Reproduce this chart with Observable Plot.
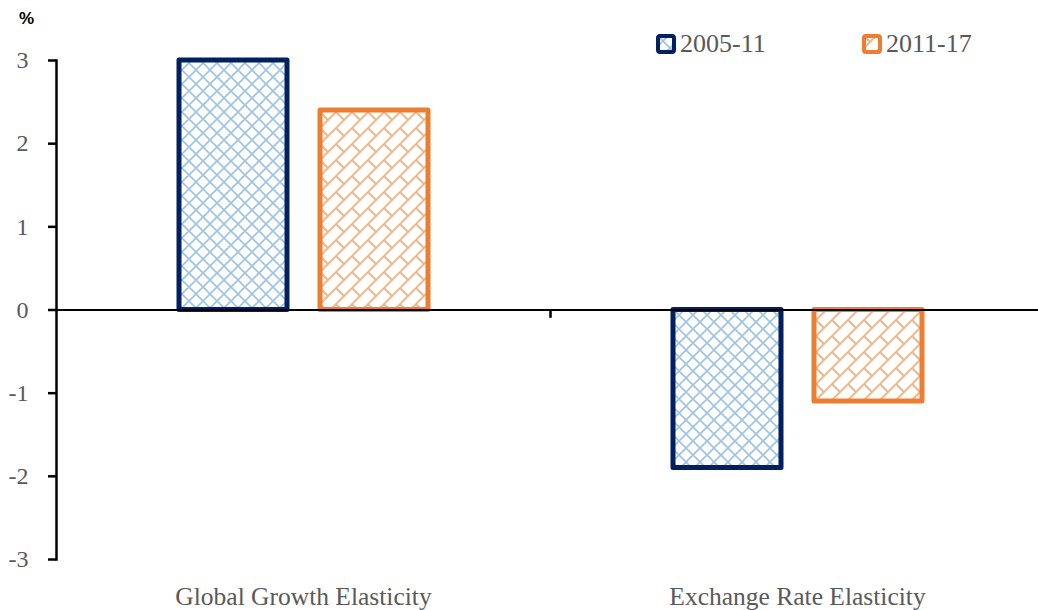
<!DOCTYPE html>
<html>
<head>
<meta charset="utf-8">
<script src="https://cdn.jsdelivr.net/npm/d3@7"></script>
<script src="https://cdn.jsdelivr.net/npm/@observablehq/plot@0.6"></script>
<style>
  body { margin: 0; background: #fff; }
  #wrap { position: relative; width: 1038px; height: 610px; overflow: hidden; }
  #chart svg text { fill: #595959; }
  .pct { position: absolute; left: 19px; top: 9px; font: bold 17px "Liberation Sans", Arial, sans-serif; color: #000; }
  .leg { position: absolute; top: 29px; display: flex; align-items: center; font: 26px "Liberation Serif", serif; color: #595959; }
  .leg svg { margin-right: 4px; }
</style>
</head>
<body>
<div id="wrap">
  <div id="chart"></div>
  <div class="pct">%</div>
  <div id="legend"></div>
</div>
<script>
const categories = ["Global Growth Elasticity", "Exchange Rate Elasticity"];
const series = ["2005-11", "2011-17"];
const values2005 = [3.0, -1.9];
const values2011 = [2.4, -1.1];
const yTicks = [-3, -2, -1, 0, 1, 2, 3];

const strokeColors = {"2005-11": "#002060", "2011-17": "#ED7D31"};
const fills = {"2005-11": "url(#pBlue)", "2011-17": "url(#pOrange)"};

const data = categories.flatMap((c, i) => [
  {category: c, series: series[0], value: values2005[i]},
  {category: c, series: series[1], value: values2011[i]}
]);

const chart = Plot.plot({
  width: 1038,
  height: 610,
  marginTop: 60,
  marginBottom: 51,
  marginLeft: 56,
  marginRight: -6,
  style: {fontFamily: "'Liberation Serif', serif", fontSize: "24px", color: "#000", background: "transparent"},
  x: {domain: categories, padding: 0},
  y: {domain: [-3, 3]},
  marks: [
    Plot.barY(data.filter(d => d.series === series[0]), {
      x: "category", y: "value", fill: fills[series[0]], stroke: strokeColors[series[0]],
      strokeWidth: 5, strokeLinejoin: "round", insetLeft: 123, insetRight: 263
    }),
    Plot.barY(data.filter(d => d.series === series[1]), {
      x: "category", y: "value", fill: fills[series[1]], stroke: strokeColors[series[1]],
      strokeWidth: 5, strokeLinejoin: "round", insetLeft: 264, insetRight: 122
    }),
    Plot.axisY({ticks: yTicks, tickFormat: d => `${d}`, tickSize: 8, tickPadding: 20, label: null,
      stroke: "#000", strokeWidth: 2.5, strokeOpacity: 1, fontSize: 24}),
    Plot.axisX({tickSize: 0, tickPadding: 27, label: null, fontSize: 25.5}),
    Plot.frame({anchor: "left", stroke: "#000", strokeWidth: 2.5}),
    Plot.ruleY([0], {stroke: "#000", strokeWidth: 2}),
    Plot.ruleX([categories[1]], {x: d => d, dx: -247, y1: 0, y2: -0.1, stroke: "#000", strokeWidth: 2.5})
  ]
});

// patterns
const svg = d3.select(chart);
const defs = svg.insert("defs", ":first-child");
const pb = defs.append("pattern").attr("id", "pBlue").attr("patternUnits", "userSpaceOnUse")
  .attr("width", 14).attr("height", 14);
pb.append("rect").attr("width", 14).attr("height", 14).attr("fill", "#fff");
pb.append("path").attr("d", "M0,0L14,14M14,0L0,14").attr("stroke", "#9DC3E6").attr("stroke-width", 1.6);
const po = defs.append("pattern").attr("id", "pOrange").attr("patternUnits", "userSpaceOnUse")
  .attr("width", 16).attr("height", 16);
po.append("rect").attr("width", 16).attr("height", 16).attr("fill", "#fff");
po.append("path").attr("d", "M-2,18L18,-2M0,0L8,8M-2,2L2,-2M14,18L18,14").attr("stroke", "#F4B183").attr("stroke-width", 1.8);

document.getElementById("chart").appendChild(chart);

// legend
const legend = document.getElementById("legend");
const legendX = [656, 862];
series.forEach((s, i) => {
  const item = document.createElement("div");
  item.className = "leg";
  item.style.left = legendX[i] + "px";
  item.innerHTML = `<svg width="20" height="20"><rect x="2" y="2" width="16" height="16" rx="2" fill="${fills[s]}" stroke="${strokeColors[s]}" stroke-width="4"/></svg><span>${s}</span>`;
  legend.appendChild(item);
});
</script>
</body>
</html>
